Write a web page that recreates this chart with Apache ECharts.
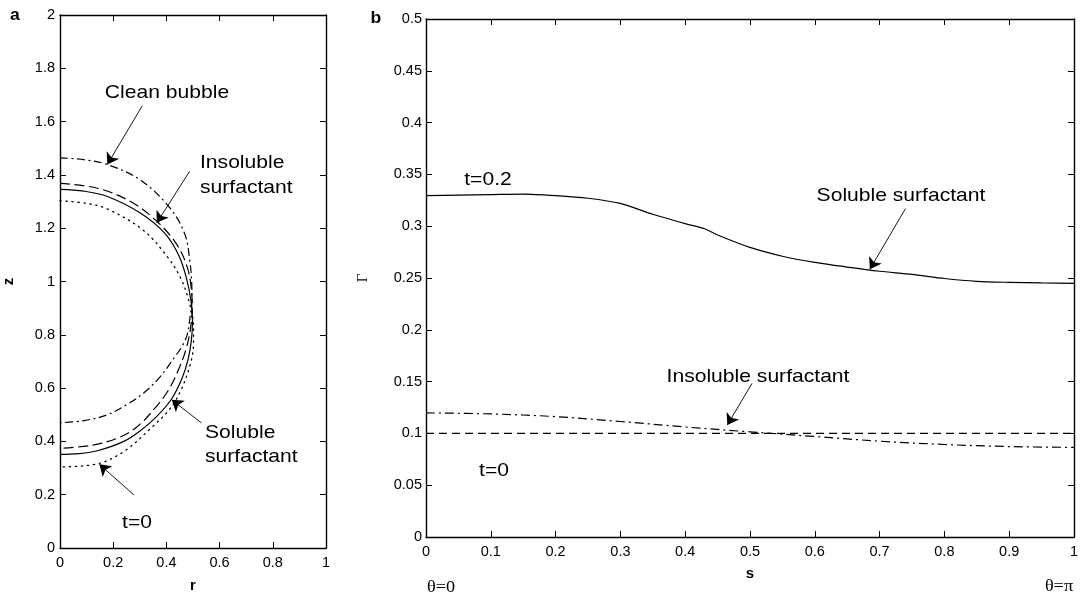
<!DOCTYPE html>
<html>
<head>
<meta charset="utf-8">
<script src="https://cdn.jsdelivr.net/npm/echarts@6/dist/echarts.min.js"></script>
<style>
html,body{margin:0;padding:0;background:#fff;}
#main{width:1081px;height:598px;}
</style>
</head>
<body>
<div id="main"></div>
<script>
// panel a : bubble shapes (r, z)
var cleanR = [0, 0.09, 0.178, 0.302, 0.414, 0.47, 0.488, 0.495, 0.496, 0.488, 0.478, 0.458, 0.43, 0.377, 0.321, 0.259, 0.178, 0.09, 0];
var cleanZ = [1.464, 1.457, 1.439, 1.381, 1.275, 1.176, 1.077, 1.0, 0.93, 0.86, 0.8, 0.755, 0.715, 0.643, 0.587, 0.543, 0.5, 0.478, 0.47];
var solR = [0, 0.09, 0.178, 0.302, 0.395, 0.448, 0.476, 0.492, 0.498, 0.494, 0.482, 0.46, 0.42, 0.364, 0.302, 0.24, 0.141, 0.07, 0];
var solZ = [1.346, 1.339, 1.319, 1.257, 1.18, 1.095, 1.01, 0.93, 0.85, 0.78, 0.71, 0.64, 0.56, 0.494, 0.44, 0.4, 0.365, 0.354, 0.351];
var insR = [0, 0.141, 0.265, 0.364, 0.439, 0.478, 0.493, 0.497, 0.49, 0.475, 0.45, 0.408, 0.352, 0.29, 0.216, 0.116, 0];
var insZ = [1.368, 1.35, 1.3, 1.226, 1.139, 1.055, 0.98, 0.9, 0.82, 0.75, 0.68, 0.593, 0.519, 0.455, 0.412, 0.385, 0.374];
var t0R = [0, 0.1, 0.178, 0.31, 0.398, 0.455, 0.489, 0.502, 0.502, 0.49, 0.455, 0.414, 0.34, 0.24, 0.141, 0];
var t0Z = [1.303, 1.293, 1.272, 1.195, 1.1, 1.01, 0.91, 0.83, 0.77, 0.69, 0.593, 0.523, 0.448, 0.362, 0.316, 0.304];

// panel b : surfactant concentration vs s
var sSol = [0, 0.05, 0.1, 0.15, 0.2, 0.25, 0.3, 0.35, 0.4, 0.43, 0.45, 0.5, 0.55, 0.6, 0.65, 0.7, 0.75, 0.8, 0.85, 0.9, 0.95, 1.0];
var gSol = [0.3295, 0.33, 0.3305, 0.331, 0.3295, 0.327, 0.322, 0.3115, 0.3025, 0.2975, 0.2915, 0.2795, 0.271, 0.265, 0.2605, 0.2565, 0.2535, 0.2495, 0.2468, 0.2458, 0.2452, 0.2449];
var sIns = [0, 0.1, 0.2, 0.3, 0.4, 0.5, 0.6, 0.7, 0.8, 0.9, 1.0];
var gIns = [0.1198, 0.1188, 0.1162, 0.1115, 0.1062, 0.1015, 0.097, 0.0925, 0.0893, 0.0873, 0.0865];
var sInit = [0, 1];
var gInit = [0.1, 0.1];

function zip(a, b) {
	var out = [];
	for (var i = 0; i < a.length; i++) out.push([a[i], b[i]]);
	return out;
}

var chart = echarts.init(document.getElementById('main'));
var sans = "'Liberation Sans', Arial, Helvetica, sans-serif";
var serif = "'Liberation Serif', 'Times New Roman', serif";
var tickFont = 14.5;

function axis(grid, pos, min, max, step, showLabel, name, extra) {
	var a = {
		type: 'value', gridIndex: grid, position: pos,
		min: min, max: max, interval: step,
		axisLine: {show: true, onZero: false, lineStyle: {color: '#000', width: 1.4}},
		axisTick: {show: true, inside: true, length: 6, lineStyle: {color: '#000', width: 1}},
		axisLabel: {show: showLabel, color: '#000', fontSize: tickFont, fontFamily: sans},
		splitLine: {show: false}
	};
	if (name) {
		a.name = name;
		a.nameLocation = 'middle';
	}
	return Object.assign(a, extra || {});
}

var lineBase = {type: 'line', showSymbol: false, symbol: 'none', silent: true, animation: false, smooth: 0.35};
function ser(data, xi, yi, dash, extra) {
	return Object.assign({}, lineBase, {
		data: data, xAxisIndex: xi, yAxisIndex: yi,
		lineStyle: {color: '#000', width: 1.2, type: dash}
	}, extra || {});
}
// annotation arrows, given in data coordinates
function arrows(list) {
	return {
		silent: true, animation: false,
		symbol: ['none', 'arrow'], symbolSize: 11,
		label: {show: false},
		emphasis: {disabled: true},
		lineStyle: {color: '#000', width: 0.9, type: 'solid'},
		itemStyle: {color: '#000'},
		data: list.map(function (p) { return [{coord: p[0]}, {coord: p[1]}]; })
	};
}

var option = {
	backgroundColor: '#fff',
	animation: false,
	grid: [
		{left: 57, top: 15, width: 269, height: 538},
		{left: 426, top: 19, width: 654, height: 518}
	],
	xAxis: [
		axis(0, 'bottom', 0, 1, 0.2, true, 'r', {nameGap: 30, nameTextStyle: {color: '#000', fontSize: 15, fontWeight: 'bold', fontFamily: sans}, axisLabel: {color: '#000', fontSize: tickFont, fontFamily: sans, margin: 7}}),
		axis(0, 'top', 0, 1, 0.2, false),
		axis(1, 'bottom', 0, 1, 0.1, true, 's', {nameGap: 29, nameTextStyle: {color: '#000', fontSize: 15, fontWeight: 'bold', fontFamily: sans}, axisLabel: {color: '#000', fontSize: tickFont, fontFamily: sans, margin: 7}}),
		axis(1, 'top', 0, 1, 0.1, false)
	],
	yAxis: [
		axis(0, 'left', 0, 2, 0.2, true, 'z', {nameGap: 44, nameRotate: 90, nameTextStyle: {color: '#000', fontSize: 15, fontWeight: 'bold', fontFamily: sans}, axisLabel: {color: '#000', fontSize: tickFont, fontFamily: sans, margin: 5}}),
		axis(0, 'right', 0, 2, 0.2, false),
		axis(1, 'left', 0, 0.5, 0.05, true, 'Γ', {nameGap: 55, nameRotate: 90, nameTextStyle: {color: '#000', fontSize: 15, fontFamily: serif}, axisLabel: {color: '#000', fontSize: tickFont, fontFamily: sans, margin: 4}}),
		axis(1, 'right', 0, 0.5, 0.05, false)
	],
	series: [
		ser(zip(cleanR, cleanZ), 0, 0, [8, 3.5, 2, 3.5]),
		ser(zip(insR, insZ), 0, 0, [10, 4.5]),
		ser(zip(t0R, t0Z), 0, 0, [1.3, 4.7], {lineStyle: {color: '#000', width: 1.3, type: [1.3, 4.7], cap: 'round'}}),
		ser(zip(solR, solZ), 0, 0, 'solid', {
			markLine: arrows([
				[[0.309, 1.659], [0.178, 1.439]],
				[[0.487, 1.413], [0.364, 1.22]],
				[[0.532, 0.469], [0.42, 0.556]],
				[[0.278, 0.199], [0.148, 0.314]]
			])
		}),
		ser(zip(sInit, gInit), 2, 2, [8, 5], {smooth: false}),
		ser(zip(sIns, gIns), 2, 2, [9, 4, 2, 4]),
		ser(zip(sSol, gSol), 2, 2, 'solid', {
			smooth: 0.25,
			markLine: arrows([
				[[0.74, 0.317], [0.685, 0.2584]],
				[[0.503, 0.1482], [0.465, 0.108]]
			])
		})
	],
	graphic: [
		{type: 'text', x: 15, y: 16, scaleX: 1.1, style: {text: 'a', fill: '#000', fontSize: 16, fontWeight: 'bold', fontFamily: sans, textAlign: 'center', textVerticalAlign: 'middle'}},
		{type: 'text', x: 376, y: 19, scaleX: 1.1, style: {text: 'b', fill: '#000', fontSize: 16, fontWeight: 'bold', fontFamily: sans, textAlign: 'center', textVerticalAlign: 'middle'}},
		{type: 'text', x: 167, y: 93, scaleX: 1.14, style: {text: 'Clean bubble', fill: '#000', fontSize: 18.5, fontFamily: sans, textAlign: 'center', textVerticalAlign: 'middle'}},
		{type: 'text', x: 200, y: 175, scaleX: 1.14, style: {text: 'Insoluble\nsurfactant', fill: '#000', fontSize: 18.5, lineHeight: 25, fontFamily: sans, textAlign: 'left', textVerticalAlign: 'middle'}},
		{type: 'text', x: 205, y: 445, scaleX: 1.14, style: {text: 'Soluble\nsurfactant', fill: '#000', fontSize: 18.5, lineHeight: 24, fontFamily: sans, textAlign: 'left', textVerticalAlign: 'middle'}},
		{type: 'text', x: 137, y: 523, scaleX: 1.14, style: {text: 't=0', fill: '#000', fontSize: 18.5, fontFamily: sans, textAlign: 'center', textVerticalAlign: 'middle'}},
		{type: 'text', x: 488, y: 180, scaleX: 1.14, style: {text: 't=0.2', fill: '#000', fontSize: 18.5, fontFamily: sans, textAlign: 'center', textVerticalAlign: 'middle'}},
		{type: 'text', x: 901, y: 196, scaleX: 1.14, style: {text: 'Soluble surfactant', fill: '#000', fontSize: 18.5, fontFamily: sans, textAlign: 'center', textVerticalAlign: 'middle'}},
		{type: 'text', x: 758, y: 377, scaleX: 1.14, style: {text: 'Insoluble surfactant', fill: '#000', fontSize: 18.5, fontFamily: sans, textAlign: 'center', textVerticalAlign: 'middle'}},
		{type: 'text', x: 494, y: 471, scaleX: 1.14, style: {text: 't=0', fill: '#000', fontSize: 18.5, fontFamily: sans, textAlign: 'center', textVerticalAlign: 'middle'}},
		{type: 'text', x: 441, y: 588, scaleX: 1.14, style: {text: 'θ=0', fill: '#000', fontSize: 16, fontFamily: serif, textAlign: 'center', textVerticalAlign: 'middle'}},
		{type: 'text', x: 1059, y: 587, scaleX: 1.14, style: {text: 'θ=π', fill: '#000', fontSize: 16, fontFamily: serif, textAlign: 'center', textVerticalAlign: 'middle'}}
	]
};
chart.setOption(option);
</script>
</body>
</html>
